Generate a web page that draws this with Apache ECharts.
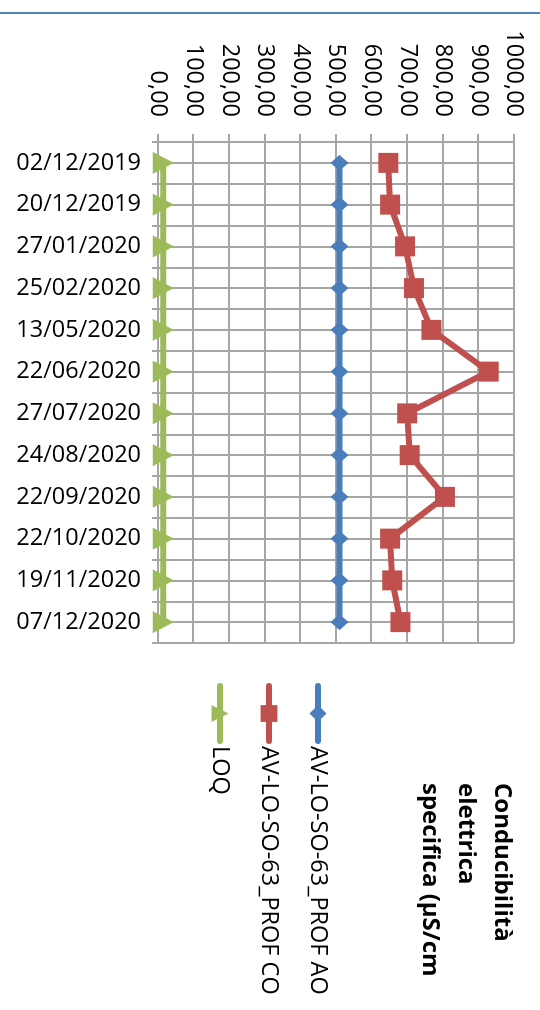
<!DOCTYPE html>
<html><head><meta charset="utf-8">
<script src="https://cdn.jsdelivr.net/npm/echarts@6/dist/echarts.min.js"></script>
<style>
html,body{margin:0;padding:0;width:540px;height:1010px;overflow:hidden;background:#fff;}
#chart{position:absolute;left:0;top:0;width:1010px;height:540px;transform-origin:0 0;transform:translateX(540px) rotate(90deg);}
</style></head><body><div id="chart"></div>
<script>
const dates = ['02/12/2019','20/12/2019','27/01/2020','25/02/2020','13/05/2020','22/06/2020','27/07/2020','24/08/2020','22/09/2020','22/10/2020','19/11/2020','07/12/2020'];
const profAO = [510,510,510,510,510,510,510,510,510,510,510,510];
const profCO = [647,652,694,719,768,929,700,707,806,652,658,681];
const loq = [15,15,15,15,15,15,15,15,15,15,15,15];
const valueTickLabels = ['0,00','100,00','200,00','300,00','400,00','500,00','600,00','700,00','800,00','900,00','1000,00'];
const seriesNames = ['AV-LO-SO-63_PROF AO','AV-LO-SO-63_PROF CO','LOQ'];
const titleLines = ['Conducibilità','elettrica','specifica (µS/cm'];

const FONT = 'Open Sans';
const GRID = '#a6a6a6';
const chart = echarts.init(document.getElementById('chart'), null, {renderer:'canvas'});
chart.setOption({
  backgroundColor:'#ffffff',
  animation:false,
  textStyle:{fontFamily:FONT},
  title:{text:titleLines.join('\n'), left:783, top:20, padding:0,
    textStyle:{fontFamily:FONT, fontSize:24, fontWeight:'bold', color:'#000', lineHeight:36}},
  legend:{orient:'vertical', left:683, top:208, padding:0, itemWidth:55, itemHeight:21, itemGap:21,
    lineStyle:{width:6, cap:'round'},
    textStyle:{fontFamily:FONT, fontSize:23.5, color:'#000', lineHeight:28},
    data:seriesNames},
  grid:{left:142, right:367, top:26, bottom:158, outerBoundsMode:'none', containLabel:false},
  xAxis:[{
    type:'category', data:dates, boundaryGap:true, gridIndex:0,
    axisLine:{show:true, lineStyle:{color:GRID, width:2}},
    axisTick:{show:true, length:6, inside:false, lineStyle:{color:GRID, width:2}},
    axisLabel:{interval:0, rotate:90, margin:17, fontFamily:FONT, fontSize:23.5, color:'#000'},
    splitLine:{show:false}
  },{
    type:'value', min:0, max:12, interval:0.5, gridIndex:0, position:'top',
    axisLine:{show:false}, axisTick:{show:false}, axisLabel:{show:false},
    splitLine:{show:true, lineStyle:{color:GRID, width:2}}
  }],
  yAxis:{
    type:'value', min:0, max:1000, interval:100,
    axisLine:{show:true, lineStyle:{color:GRID, width:2}},
    axisTick:{show:true, length:8, lineStyle:{color:GRID, width:2}},
    axisLabel:{margin:25, fontFamily:FONT, fontSize:23.5, color:'#000',
      formatter:(v)=>valueTickLabels[Math.round(v/100)]},
    splitLine:{show:true, lineStyle:{color:GRID, width:2}}
  },
  graphic:[{type:'line', shape:{x1:13,y1:0,x2:13,y2:540}, style:{stroke:'#4f81bd', lineWidth:2}, silent:true}],
  series:[
    {name:seriesNames[0], type:'line', data:profAO, xAxisIndex:0, symbol:'diamond', symbolSize:[16,18],
      lineStyle:{color:'#4a7ebb', width:6}, itemStyle:{color:'#4a7ebb'}},
    {name:seriesNames[1], type:'line', data:profCO, xAxisIndex:0, symbol:'rect', symbolSize:20,
      lineStyle:{color:'#c0504d', width:6}, itemStyle:{color:'#c0504d'}},
    {name:seriesNames[2], type:'line', data:loq, xAxisIndex:0, symbol:'triangle', symbolSize:[22,21],
      lineStyle:{color:'#9bbb59', width:6}, itemStyle:{color:'#9bbb59'}}
  ]
});
</script></body></html>
